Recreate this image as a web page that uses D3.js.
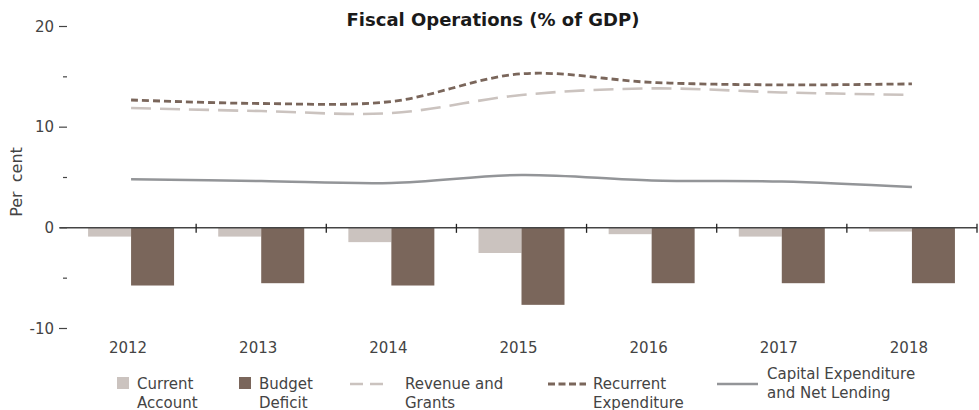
<!DOCTYPE html>
<html>
<head>
<meta charset="utf-8">
<script src="https://cdn.jsdelivr.net/npm/d3@7"></script>
<style>
  body { margin: 0; background: #fff; }
  svg text { font-family: "DejaVu Sans", sans-serif; fill: #444; }
</style>
</head>
<body>
<svg id="canvas" width="979" height="410"></svg>
<script>
const years = ["2012", "2013", "2014", "2015", "2016", "2017", "2018"];
const currentAccount = [-0.87, -0.87, -1.42, -2.5, -0.63, -0.87, -0.37];
const budgetDeficit = [-5.73, -5.5, -5.73, -7.65, -5.5, -5.5, -5.5];
const revenueGrants = [11.9, 11.6, 11.4, 13.2, 13.85, 13.45, 13.2];
const recurrentExp = [12.7, 12.35, 12.55, 15.3, 14.45, 14.2, 14.3];
const capitalExp = [4.83, 4.65, 4.45, 5.25, 4.7, 4.6, 4.05];
const yTicks = [-10, -5, 0, 5, 10, 15, 20];

const colLight = "#cbc3bf";
const colDark = "#7a665b";
const colGray = "#939598";

const svg = d3.select("#canvas");

const x = d3.scaleBand().domain(years).range([66, 977]).padding(0);
const y = d3.scaleLinear().domain([-10, 20]).range([328.5, 26.5]);
const barW = 43;

// Title
svg.append("text")
    .attr("x", 493).attr("y", 26)
    .attr("text-anchor", "middle")
    .style("font-weight", "bold")
    .style("font-size", "18px")
    .style("fill", "#1a1a1a")
    .text("Fiscal Operations (% of GDP)");

// Y axis label
svg.append("text")
    .attr("transform", "translate(22,182) rotate(-90)")
    .attr("text-anchor", "middle")
    .style("font-size", "16px")
    .style("word-spacing", "4px")
    .text("Per cent");

// Y ticks (major with label, minor as short dash)
const yAxisG = svg.append("g");
yTicks.forEach(t => {
    const major = t % 10 === 0;
    yAxisG.append("line")
        .attr("x1", major ? 59 : 63).attr("x2", 67)
        .attr("y1", y(t)).attr("y2", y(t))
        .attr("stroke", "#444").attr("stroke-width", 1.2);
    if (major) {
        yAxisG.append("text")
            .attr("x", 54).attr("y", y(t)).attr("dy", "0.35em")
            .attr("text-anchor", "end")
            .style("font-size", "15px")
            .text(t);
    }
});

// Bars
const bars = svg.append("g");
bars.selectAll("rect.ca")
    .data(years)
    .enter().append("rect")
    .attr("class", "ca")
    .attr("x", d => x(d) + x.bandwidth() / 2 - barW)
    .attr("y", y(0))
    .attr("width", barW)
    .attr("height", (d, i) => y(currentAccount[i]) - y(0))
    .attr("fill", colLight);

bars.selectAll("rect.bd")
    .data(years)
    .enter().append("rect")
    .attr("class", "bd")
    .attr("x", d => x(d) + x.bandwidth() / 2)
    .attr("y", y(0))
    .attr("width", barW)
    .attr("height", (d, i) => y(budgetDeficit[i]) - y(0))
    .attr("fill", colDark);

// Zero axis line with category ticks
svg.append("line")
    .attr("x1", 60).attr("x2", 977)
    .attr("y1", y(0)).attr("y2", y(0))
    .attr("stroke", "#444").attr("stroke-width", 1.5);

const bounds = years.map(d => x(d) + x.bandwidth());
svg.selectAll("line.xt")
    .data(bounds)
    .enter().append("line")
    .attr("class", "xt")
    .attr("x1", d => d).attr("x2", d => d)
    .attr("y1", y(0) - 4).attr("y2", y(0) + 5)
    .attr("stroke", "#222").attr("stroke-width", 1.3);

svg.selectAll("text.xl")
    .data(years)
    .enter().append("text")
    .attr("class", "xl")
    .attr("x", d => x(d) + x.bandwidth() / 2 - 3)
    .attr("y", 353)
    .attr("text-anchor", "middle")
    .style("font-size", "15px")
    .text(d => d);

// Lines
const line = d3.line()
    .x((d, i) => x(years[i]) + x.bandwidth() / 2)
    .y(d => y(d))
    .curve(d3.curveCatmullRom.alpha(0.5));

svg.append("path")
    .datum(revenueGrants)
    .attr("d", line)
    .attr("fill", "none")
    .attr("stroke", colLight)
    .attr("stroke-width", 2.6)
    .attr("stroke-dasharray", "20,9");

svg.append("path")
    .datum(recurrentExp)
    .attr("d", line)
    .attr("fill", "none")
    .attr("stroke", colDark)
    .attr("stroke-width", 2.8)
    .attr("stroke-dasharray", "7,4");

svg.append("path")
    .datum(capitalExp)
    .attr("d", line)
    .attr("fill", "none")
    .attr("stroke", colGray)
    .attr("stroke-width", 2.5);

// Legend
const legend = svg.append("g").style("font-size", "15px");

function legendText(xp, yp, lines) {
    const t = legend.append("text").attr("x", xp).attr("y", yp);
    lines.forEach((l, i) => {
        t.append("tspan").attr("x", xp).attr("dy", i === 0 ? 0 : 18.5).text(l);
    });
}

legend.append("rect").attr("x", 117).attr("y", 377).attr("width", 12).attr("height", 12).attr("fill", colLight);
legendText(137, 389, ["Current", "Account"]);

legend.append("rect").attr("x", 239).attr("y", 377).attr("width", 12).attr("height", 12).attr("fill", colDark);
legendText(259, 389, ["Budget", "Deficit"]);

legend.append("line").attr("x1", 350).attr("x2", 388).attr("y1", 384).attr("y2", 384)
    .attr("stroke", colLight).attr("stroke-width", 2.6).attr("stroke-dasharray", "13,7");
legendText(405, 389, ["Revenue and", "Grants"]);

legend.append("line").attr("x1", 548).attr("x2", 586).attr("y1", 384).attr("y2", 384)
    .attr("stroke", colDark).attr("stroke-width", 2.8).attr("stroke-dasharray", "7,3.5");
legendText(593, 389, ["Recurrent", "Expenditure"]);

legend.append("line").attr("x1", 717).attr("x2", 758).attr("y1", 384).attr("y2", 384)
    .attr("stroke", colGray).attr("stroke-width", 2.5);
legendText(767, 379, ["Capital Expenditure", "and Net Lending"]);
</script>
</body>
</html>
